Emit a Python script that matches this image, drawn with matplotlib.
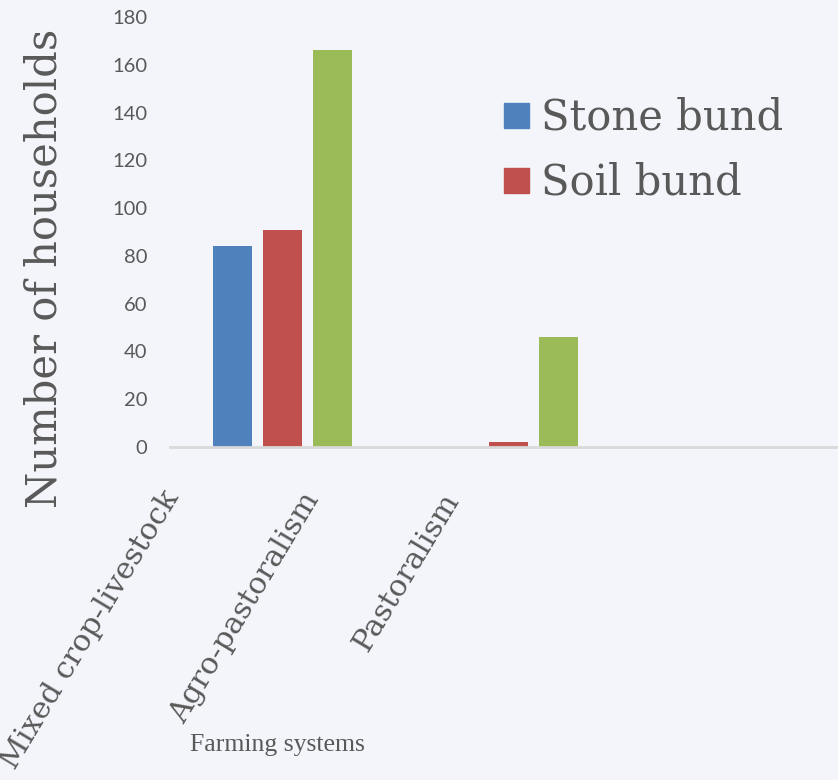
import matplotlib
matplotlib.use("Agg")
import matplotlib.pyplot as plt
from matplotlib.lines import Line2D
import numpy as np

# Households practising each conservation structure, by farming system
categories = ["Mixed crop-livestock", "Agro-pastoralism", "Pastoralism"]
series_names = ["Stone bund", "Soil bund", "Other"]
stone_bund = [84, 0, 0]
soil_bund = [91, 2, 0]
other = [166, 46, 0]
y_ticks = [0, 20, 40, 60, 80, 100, 120, 140, 160, 180]

colors = ["#4f81bd", "#c0504d", "#9bbb59"]
bg = "#f4f5fa"
text_grey = "#595959"
serif = ["DejaVu Serif"]

fig = plt.figure(figsize=(8.38, 7.8), dpi=100, facecolor=bg)
ax = fig.add_axes([169.5 / 838, 333 / 780, 678 / 838, 430 / 780])
ax.set_facecolor(bg)

x = np.arange(len(categories))
offset = 0.221
width = 0.175
for i, vals in enumerate([stone_bund, soil_bund, other]):
    ax.bar(x + (i - 1) * offset, vals, width=width, color=colors[i],
           label=series_names[i], zorder=3)

ax.set_xlim(-0.5, len(categories) - 0.5)
ax.set_ylim(0, 180)
ax.set_yticks(y_ticks)
ax.tick_params(axis="y", length=0, pad=16, labelsize=14.5, labelcolor=text_grey)
for lab in ax.get_yticklabels():
    lab.set_family("Lato")
ax.set_xticks([])
for side in ["left", "right", "top"]:
    ax.spines[side].set_visible(False)
ax.spines["bottom"].set_color("#d9d9d9")
ax.spines["bottom"].set_linewidth(2)
ax.spines["bottom"].set_zorder(4)

# Category labels, slanted below the axis
label_anchor_px = [(161, 486), (301, 488), (441, 488)]
for name, (px, py) in zip(categories, label_anchor_px):
    fig.text(px / 838, 1 - py / 780, name, rotation=59, rotation_mode="anchor",
             ha="right", va="top", fontsize=21.8, family=serif, color=text_grey)

fig.text(277 / 838, 1 - 745 / 780, "Farming systems", ha="center", va="center",
         fontsize=18.5, family=["Liberation Serif"], color=text_grey)
fig.text(45 / 838, 1 - 268 / 780, "Number of households", rotation=90,
         ha="center", va="center", fontsize=30, family=serif, color=text_grey)

handles = [Line2D([], [], marker="s", linestyle="none", markersize=18,
                  markerfacecolor=colors[i], markeredgecolor=colors[i])
           for i in range(2)]
leg = fig.legend(handles, series_names[:2], loc="upper left",
                 bbox_to_anchor=(481 / 838, 1 - 76 / 780), frameon=False,
                 prop={"family": serif, "size": 30}, handlelength=0.7,
                 handletextpad=0.25, labelspacing=0.55, borderpad=0)
for t in leg.get_texts():
    t.set_color(text_grey)

fig.savefig("out.png", dpi=100, facecolor=bg)
